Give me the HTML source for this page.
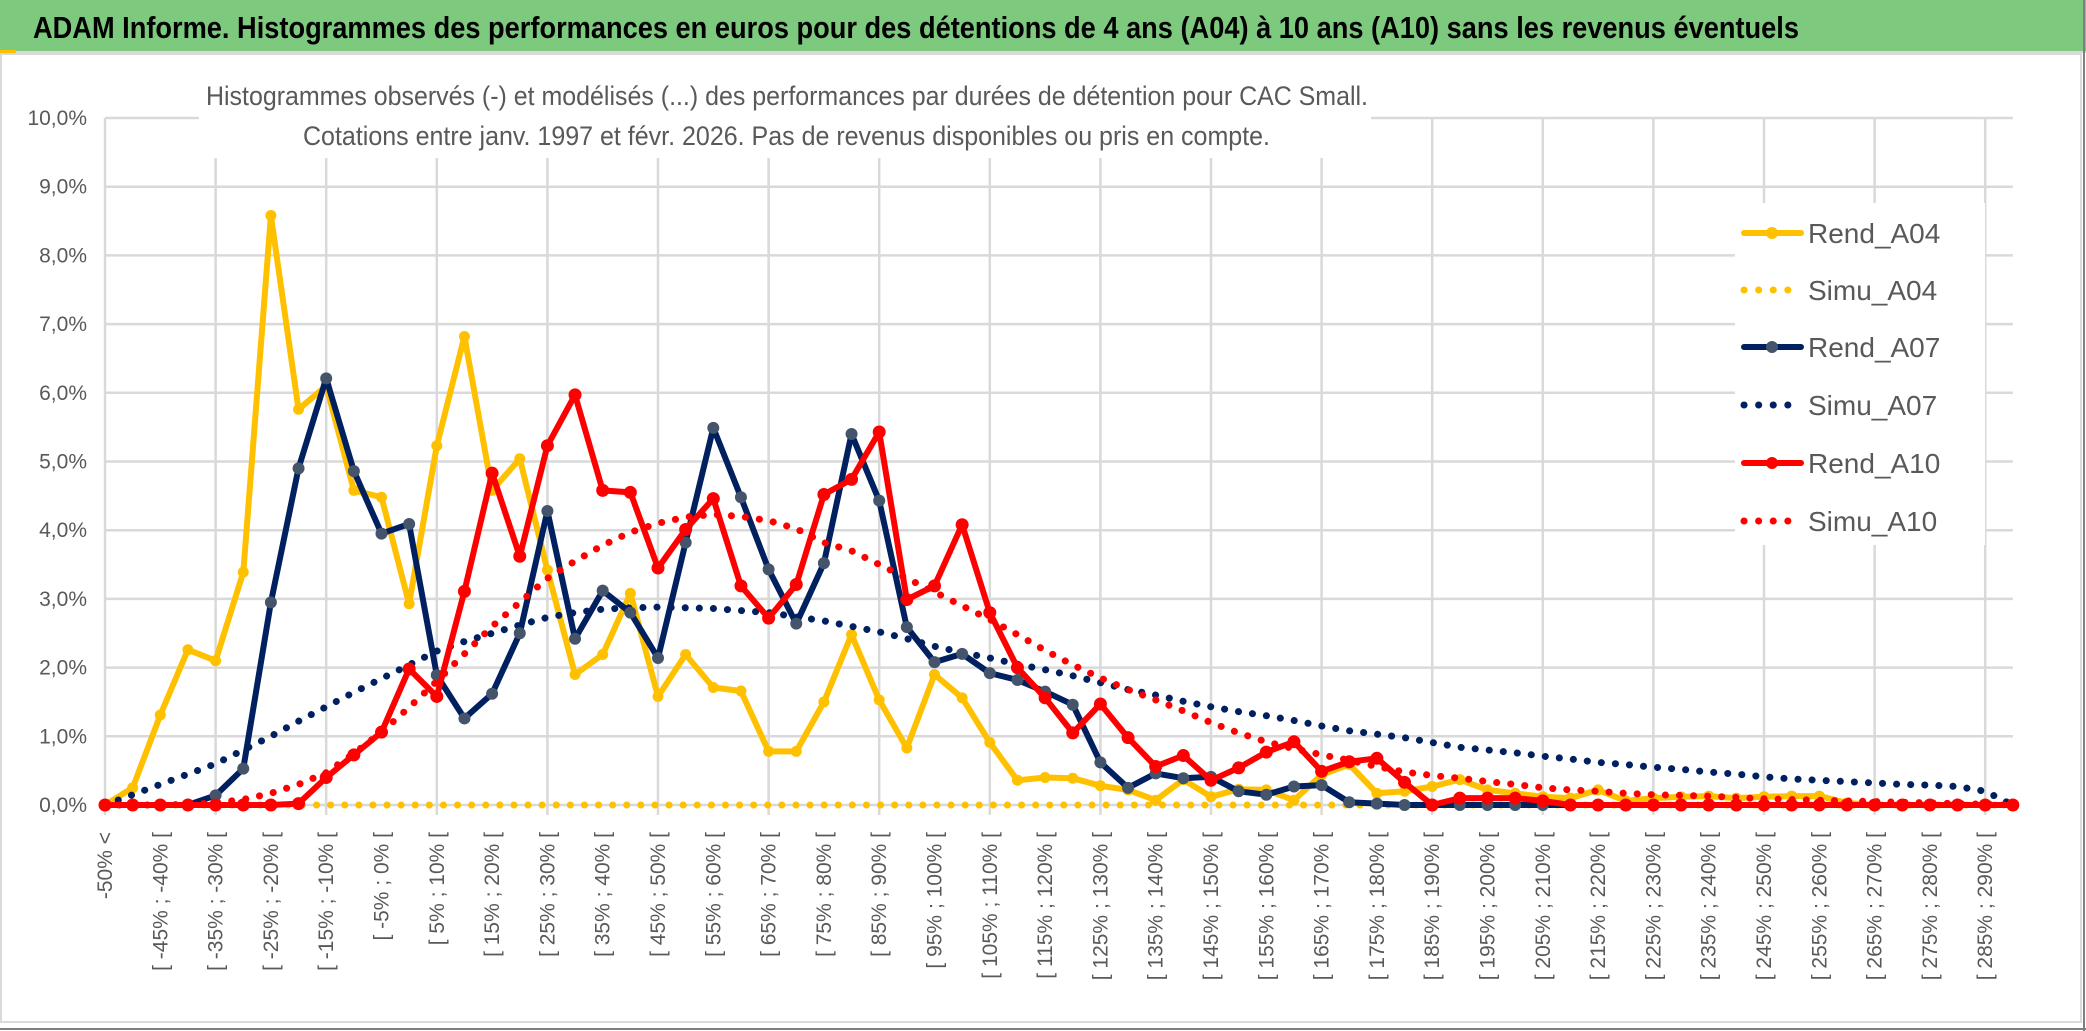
<!DOCTYPE html>
<html><head><meta charset="utf-8"><style>
html,body{margin:0;padding:0;background:#fff;}
svg{display:block;}
text{font-family:"Liberation Sans Narrow","Liberation Sans",sans-serif;}
</style></head><body>
<svg id="chart" width="2086" height="1031" viewBox="0 0 2086 1031" xmlns="http://www.w3.org/2000/svg">
  <rect x="0" y="0" width="2086" height="1031" fill="#fff"/>
  <rect x="0" y="0" width="2086" height="51" fill="#7DC97E"/>
  <line x1="0" y1="52" x2="2086" y2="52" stroke="#d9d9d9" stroke-width="2"/>
  <rect x="0" y="50" width="16" height="4" fill="#FFC000"/>
  <text x="33" y="38" font-size="31" font-weight="bold" fill="#000" textLength="1766" lengthAdjust="spacingAndGlyphs">ADAM Informe. Histogrammes des performances en euros pour des détentions de 4 ans (A04) à 10 ans (A10) sans les revenus éventuels</text>
  <rect x="1" y="54" width="2080" height="968" fill="none" stroke="#d9d9d9" stroke-width="2"/>
  <line x1="2084" y1="0" x2="2084" y2="1031" stroke="#7f7f7f" stroke-width="2"/>
  <line x1="0" y1="1029" x2="2086" y2="1029" stroke="#7f7f7f" stroke-width="2"/>
  <g id="grid"></g>
  <rect x="199" y="70" width="1172" height="88" fill="#fff"/>
  <text x="206" y="105" font-size="27" fill="#595959" textLength="1162" lengthAdjust="spacingAndGlyphs">Histogrammes observés (-) et modélisés (...) des performances par durées de détention pour CAC Small.</text>
  <text x="303" y="145" font-size="27" fill="#595959" textLength="967" lengthAdjust="spacingAndGlyphs">Cotations entre janv. 1997 et févr. 2026. Pas de revenus disponibles ou pris en compte.</text>
  <g id="yaxis"></g>
  <g id="xaxis"></g>
  <g id="series"></g>
  <g id="legend"></g>
</svg>
<script>
const yTicks = [0,1,2,3,4,5,6,7,8,9,10];
const nCats = 70;
const rendA04 = [0,0.25,1.31,2.26,2.1,3.39,8.58,5.76,6.1,4.58,4.48,2.93,5.23,6.82,4.58,5.04,3.42,1.9,2.19,3.08,1.58,2.19,1.71,1.66,0.78,0.78,1.5,2.48,1.53,0.83,1.9,1.56,0.91,0.36,0.4,0.39,0.28,0.22,0.07,0.37,0.12,0.23,0.22,0.07,0.44,0.59,0.17,0.2,0.27,0.37,0.22,0.17,0.12,0.1,0.22,0.06,0.1,0.12,0.13,0.1,0.12,0.13,0.13,0.03,0,0,0,0,0,0];
const simuA04 = new Array(70).fill(0);
const rendA07 = [0,0,0,0,0.14,0.53,2.95,4.9,6.21,4.86,3.95,4.09,1.89,1.26,1.62,2.5,4.28,2.42,3.12,2.8,2.14,3.82,5.49,4.48,3.43,2.64,3.52,5.4,4.43,2.59,2.08,2.2,1.92,1.82,1.65,1.46,0.62,0.25,0.46,0.39,0.41,0.2,0.15,0.27,0.29,0.04,0.02,0,0,0,0,0,0,0,0,0,0,0,0,0,0,0,0,0,0,0,0,0,0,0];
const simuA07 = [0,0.15,0.3,0.45,0.6,0.8,1.0,1.22,1.43,1.64,1.84,2.04,2.24,2.38,2.5,2.62,2.73,2.8,2.85,2.87,2.88,2.87,2.86,2.83,2.8,2.74,2.68,2.6,2.52,2.42,2.31,2.22,2.14,2.05,1.97,1.88,1.78,1.68,1.6,1.51,1.43,1.36,1.3,1.23,1.15,1.08,1.03,0.98,0.91,0.84,0.8,0.76,0.71,0.67,0.62,0.59,0.55,0.52,0.48,0.45,0.41,0.38,0.36,0.34,0.32,0.3,0.29,0.27,0.2,0];
const rendA10 = [0,0,0,0,0,0,0,0.02,0.4,0.73,1.06,1.98,1.58,3.11,4.83,3.62,5.23,5.97,4.58,4.55,3.45,4.01,4.46,3.19,2.72,3.21,4.52,4.74,5.43,2.99,3.19,4.08,2.8,2.0,1.56,1.05,1.47,0.98,0.56,0.72,0.36,0.54,0.77,0.92,0.49,0.63,0.68,0.33,0,0.1,0.1,0.1,0.06,0,0,0,0,0,0,0,0,0,0,0,0,0,0,0,0,0];
const simuA10 = [0,0,0,0.01,0.03,0.08,0.17,0.3,0.47,0.75,1.06,1.42,1.8,2.2,2.6,2.95,3.3,3.55,3.78,3.97,4.1,4.19,4.23,4.2,4.14,4.02,3.82,3.7,3.5,3.3,3.1,2.9,2.7,2.48,2.25,2.04,1.85,1.68,1.53,1.37,1.2,1.05,0.92,0.82,0.73,0.65,0.56,0.48,0.43,0.39,0.34,0.3,0.25,0.22,0.2,0.17,0.15,0.14,0.13,0.11,0.09,0.08,0.07,0.06,0.05,0.04,0.03,0.02,0.01,0];

const NS = 'http://www.w3.org/2000/svg';
const X0 = 105, DX = 27.65, Y0 = 805, DY = 68.7;
const xs = i => X0 + i * DX;
const ys = v => Y0 - v * DY;
function mk(tag, attrs, parent) {
  const e = document.createElementNS(NS, tag);
  for (const k in attrs) e.setAttribute(k, attrs[k]);
  parent.appendChild(e);
  return e;
}
function catLabel(i) {
  if (i === 0) return '-50% <';
  const lo = -50 + (i - 1) * 5;
  return '[ ' + lo + '% ; ' + (lo + 5) + '% [';
}
const grid = document.getElementById('grid');
yTicks.forEach(t => {
  const l = mk('line', {x1: X0, y1: ys(t), x2: xs(nCats - 1), y2: ys(t), stroke: '#d9d9d9', 'stroke-width': 2.5}, grid);
  
  
});
for (let i = 0; i < nCats; i += 4) {
  const l = mk('line', {x1: xs(i), y1: ys(10), x2: xs(i), y2: ys(0) + 10, stroke: '#d9d9d9', 'stroke-width': 2.5}, grid);
  
  
}
const yaxis = document.getElementById('yaxis');
yTicks.forEach(t => {
  const tx = mk('text', {x: 87, y: ys(t) + 7, 'font-size': 21, fill: '#595959', 'text-anchor': 'end'}, yaxis);
  
  
  tx.textContent = t.toFixed(1).replace('.', ',') + '%';
});
const xaxis = document.getElementById('xaxis');
for (let i = 0; i < nCats; i += 2) {
  const x = xs(i) + 7, y = 832;
  const tx = mk('text', {x: x, y: y, 'font-size': 21, fill: '#595959', 'text-anchor': 'end', transform: 'rotate(-90 ' + x + ' ' + y + ')'}, xaxis);
  
  
  tx.textContent = catLabel(i);
}
const seriesG = document.getElementById('series');
function pts(arr) { return arr.map((v, i) => xs(i).toFixed(1) + ',' + ys(v).toFixed(1)).join(' '); }
function dotted(arr, color, name) {
  const p = mk('polyline', {points: pts(arr), fill: 'none', stroke: color, 'stroke-width': 7, 'stroke-linecap': 'round', 'stroke-dasharray': '0.1 14'}, seriesG);
  
  
}
function solid(arr, color, mcolor, r, name) {
  const g = mk('g', {}, seriesG);
  
  
  mk('polyline', {points: pts(arr), fill: 'none', stroke: color, 'stroke-width': 6, 'stroke-linejoin': 'round'}, g);
  arr.forEach((v, i) => {
    const c = mk('circle', {cx: xs(i), cy: ys(v), r: r, fill: mcolor}, g);
    
    
  });
}
dotted(simuA04, '#FFC000', 'simu-a04-line');
solid(rendA04, '#FFC000', '#FFC000', 5.5, 'rend-a04-line');
dotted(simuA07, '#002060', 'simu-a07-line');
solid(rendA07, '#002060', '#44546A', 6, 'rend-a07-line');
dotted(simuA10, '#FF0000', 'simu-a10-line');
solid(rendA10, '#FF0000', '#FF0000', 6.5, 'rend-a10-line');

const legend = document.getElementById('legend');
mk('rect', {x: 1735, y: 203, width: 250, height: 342, fill: '#fff'}, legend);
const legendNames = ['Rend_A04','Simu_A04','Rend_A07','Simu_A07','Rend_A10','Simu_A10'];
const legendColors = ['#FFC000','#FFC000','#002060','#002060','#FF0000','#FF0000'];
const legendY = [233,290,347,405,463,521];
legendNames.forEach((n, k) => {
  const g = mk('g', {}, legend);
  
  
  const y = legendY[k], c = legendColors[k];
  if (k % 2 === 0) {
    mk('line', {x1: 1744, y1: y, x2: 1801, y2: y, stroke: c, 'stroke-width': 6, 'stroke-linecap': 'round'}, g);
    mk('circle', {cx: 1772, cy: y, r: 6, fill: k === 2 ? '#44546A' : c}, g);
  } else {
    mk('line', {x1: 1744, y1: y, x2: 1801, y2: y, stroke: c, 'stroke-width': 7, 'stroke-linecap': 'round', 'stroke-dasharray': '0.1 14.5'}, g);
  }
  const t = mk('text', {x: 1808, y: y + 10, 'font-size': 28, fill: '#595959'}, g);
  t.textContent = n;
});
</script>
</body></html>
